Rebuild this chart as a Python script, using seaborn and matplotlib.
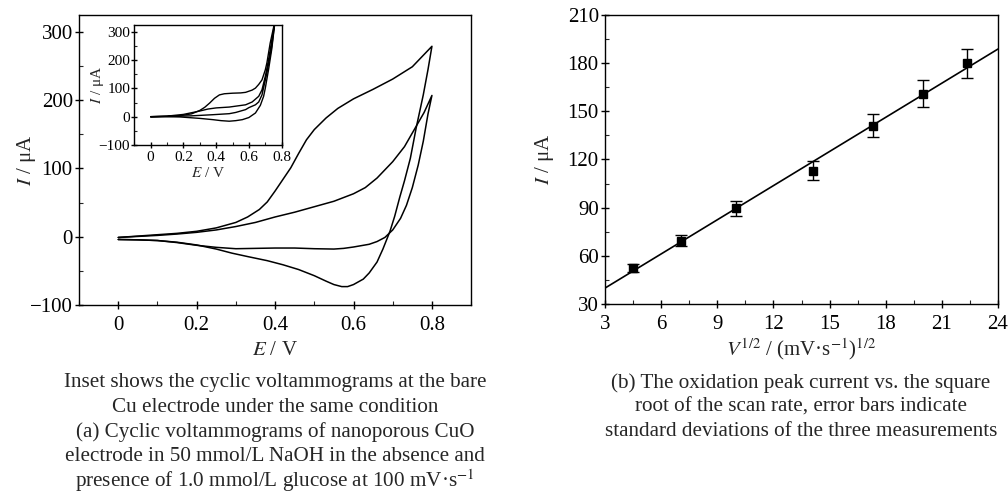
import numpy as np
import pandas as pd
import matplotlib
matplotlib.use("Agg")
import matplotlib.pyplot as plt
from matplotlib.ticker import MultipleLocator
import seaborn as sns

# CV en CuO nanoporoso (panel a): con glucosa (lazo grande) y sin glucosa
big_fwd_E = [0, 0.05, 0.1, 0.15, 0.2, 0.25, 0.3, 0.33, 0.36, 0.38, 0.4, 0.42, 0.44, 0.46, 0.48, 0.5, 0.53, 0.56, 0.6, 0.65, 0.7, 0.75, 0.8]
big_fwd_I = [-1, 1, 3, 5, 8, 13, 21, 29, 40, 51, 67, 84, 101, 122, 142, 157, 174, 188, 202, 216, 231, 249, 279]
big_rev_E = [0.8, 0.79, 0.778, 0.76, 0.745, 0.73, 0.718, 0.705, 0.693, 0.675, 0.66, 0.64, 0.625, 0.6, 0.585, 0.57, 0.55, 0.53, 0.5, 0.46, 0.42, 0.38, 0.33, 0.29, 0.25, 0.2, 0.15, 0.1, 0.05, 0]
big_rev_I = [279, 245, 208, 160, 115, 82, 58, 30, 8, -18, -37, -53, -62, -70, -73, -73, -70, -65, -57, -48, -41, -35, -29, -24, -18, -12, -8, -5.5, -4.5, -4]

small_fwd_E = [0, 0.05, 0.1, 0.15, 0.2, 0.25, 0.3, 0.35, 0.4, 0.45, 0.5, 0.55, 0.6, 0.63, 0.66, 0.7, 0.73, 0.76, 0.78, 0.8]
small_fwd_I = [-1, 0.5, 2, 4, 6.5, 10, 15, 21, 29, 36, 44, 52, 63, 72, 86, 110, 132, 162, 182, 207]
small_rev_E = [0.8, 0.79, 0.778, 0.765, 0.75, 0.735, 0.72, 0.7, 0.68, 0.66, 0.64, 0.62, 0.6, 0.575, 0.55, 0.5, 0.45, 0.4, 0.35, 0.3, 0.25, 0.2, 0.15, 0.1, 0.05, 0]
small_rev_I = [207, 180, 140, 105, 72, 46, 27, 10, -1, -7, -11, -13, -15, -17, -18, -17.5, -16.5, -16.5, -17, -17.5, -15.5, -12.5, -8.5, -5.5, -4.5, -4]

# inserto: electrodo de Cu
cu1_fwd_E = [0, 0.1, 0.18, 0.25, 0.3, 0.33, 0.36, 0.39, 0.42, 0.45, 0.5, 0.55, 0.58, 0.62, 0.64, 0.66, 0.68, 0.7, 0.71, 0.73, 0.76]
cu1_fwd_I = [0, 1.5, 3.5, 10, 22, 33, 48, 65, 77, 81, 83, 84, 86, 94, 101, 114, 130, 165, 190, 260, 340]
cu1_rev_E = [0.76, 0.74, 0.72, 0.7, 0.69, 0.67, 0.64, 0.6, 0.56, 0.52, 0.48, 0.43, 0.38, 0.3, 0.18, 0.1, 0]
cu1_rev_I = [340, 240, 166, 100, 72, 40, 13, -3, -10.5, -14, -16, -14, -10.5, -6, -1, 0, 0]
cu2_fwd_E = [0, 0.1, 0.2, 0.3, 0.35, 0.4, 0.48, 0.58, 0.62, 0.66, 0.68, 0.7, 0.72, 0.74, 0.76]
cu2_fwd_I = [0, 2, 8, 20, 27, 31, 34, 42, 52, 72, 95, 142, 200, 270, 340]
cu2_rev_E = [0.76, 0.74, 0.71, 0.68, 0.66, 0.64, 0.6, 0.58, 0.52, 0.48, 0.38, 0.25, 0.1, 0]
cu2_rev_I = [340, 250, 154, 77, 52, 42, 32, 25, 15, 10.6, 7, 3, 0.5, 0]

# panel b: corriente de pico vs raiz de la velocidad de barrido
v_sqrt = [4.47, 7.07, 10.0, 14.14, 17.32, 20.0, 22.36]
I_peak = [52.5, 69.5, 89.5, 113, 141, 161, 180]
I_sd = [2.5, 3.5, 4.5, 6, 7.3, 8.2, 9]

sns.set_style("ticks")
plt.rcParams['font.family'] = ['Liberation Serif', 'DejaVu Serif']
plt.rcParams['mathtext.fontset'] = 'stix'
plt.rcParams['axes.linewidth'] = 1.0

fig = plt.figure(figsize=(10.08, 4.96), dpi=100)
ax1 = fig.add_axes([0.0784, 0.385, 0.389, 0.585])
axin = fig.add_axes([0.1332, 0.7077, 0.1462, 0.2419])
ax2 = fig.add_axes([0.6002, 0.387, 0.3899, 0.583])


def cv(ax, E1, I1, E2, I2, lw):
    d = pd.DataFrame({'E': list(E1) + list(E2), 'I': list(I1) + list(I2)})
    sns.lineplot(data=d, x='E', y='I', sort=False, estimator=None, color='black', lw=lw, ax=ax)


def style(ax, fs, maj, mn, xpad, ypad):
    ax.tick_params(which='major', direction='inout', length=maj, width=1.0, labelsize=fs,
                   top=False, right=False, colors='black')
    ax.tick_params(which='minor', direction='in', length=mn, width=0.8, top=False, right=False)
    ax.tick_params(axis='x', which='major', pad=xpad)
    ax.tick_params(axis='y', which='major', pad=ypad)
    for s in ax.spines.values():
        s.set_visible(True)
        s.set_color('black')
        s.set_linewidth(1.0)


def labels(ax, xl, yl, fs, xy, yx):
    ax.set_xlabel(xl, fontsize=fs)
    ax.set_ylabel(yl, fontsize=fs)
    ax.xaxis.label.set_va('center')
    ax.yaxis.label.set_va('center')
    ax.xaxis.set_label_coords(0.5, xy)
    ax.yaxis.set_label_coords(yx, 0.5)


# (a)
cv(ax1, big_fwd_E, big_fwd_I, big_rev_E, big_rev_I, 1.1)
cv(ax1, small_fwd_E, small_fwd_I, small_rev_E, small_rev_I, 1.1)
ax1.set_xlim(-0.1, 0.9)
ax1.set_ylim(-100, 325)
ax1.set_xticks([0, 0.2, 0.4, 0.6, 0.8], ['0', '0.2', '0.4', '0.6', '0.8'])
ax1.set_yticks([-100, 0, 100, 200, 300])
ax1.xaxis.set_minor_locator(MultipleLocator(0.1))
ax1.yaxis.set_minor_locator(MultipleLocator(50))
style(ax1, 15, 6, 3, 5, 1.5)
labels(ax1, '$E$ / V', '$I$ / μA', 15, -0.155, -0.135)

cv(axin, cu1_fwd_E, cu1_fwd_I, cu1_rev_E, cu1_rev_I, 1.0)
cv(axin, cu2_fwd_E, cu2_fwd_I, cu2_rev_E, cu2_rev_I, 1.0)
axin.set_xlim(-0.1, 0.8)
axin.set_ylim(-100, 324)
axin.set_xticks([0, 0.2, 0.4, 0.6, 0.8], ['0', '0.2', '0.4', '0.6', '0.8'])
axin.set_yticks([-100, 0, 100, 200, 300])
axin.xaxis.set_minor_locator(MultipleLocator(0.1))
axin.yaxis.set_minor_locator(MultipleLocator(50))
style(axin, 11, 4, 2, 2.5, 1)
labels(axin, '$E$ / V', '$I$ / μA', 11, -0.235, -0.25)

# (b)
ax2.set_xlim(3, 24)
ax2.set_ylim(30, 210)
sns.regplot(x=v_sqrt, y=I_peak, ax=ax2, scatter=False, ci=None, truncate=False,
            color='black', line_kws=dict(lw=1.2))
ax2.errorbar(v_sqrt, I_peak, yerr=I_sd, fmt='s', color='black', ms=6,
             capsize=4, elinewidth=1.0, capthick=1.0)
ax2.set_xlim(3, 24)
ax2.set_ylim(30, 210)
ax2.set_xticks(range(3, 25, 3))
ax2.set_yticks(range(30, 211, 30))
ax2.xaxis.set_minor_locator(MultipleLocator(1.5))
ax2.yaxis.set_minor_locator(MultipleLocator(15))
style(ax2, 15, 6, 3, 5, 1.5)
labels(ax2, '$V^{1/2}$ / (mV·s$^{-1}$)$^{1/2}$', '$I$ / μA', 15, -0.155, -0.153)

cap_a = ["Inset shows the cyclic voltammograms at the bare",
         "Cu electrode under the same condition",
         "(a) Cyclic voltammograms of nanoporous CuO",
         "electrode in 50 mmol/L NaOH in the absence and",
         "presence of 1.0 mmol/L glucose at 100 mV·s$^{-1}$"]
cap_b = ["(b) The oxidation peak current vs. the square",
         "root of the scan rate, error bars indicate",
         "standard deviations of the three measurements"]
for i, t in enumerate(cap_a):
    fig.text(0.2728, 1 - (383 + 24.5 * i) / 496, t, ha='center', va='center', fontsize=15.2)
for i, t in enumerate(cap_b):
    fig.text(0.7946, 1 - (383 + 24.5 * i) / 496, t, ha='center', va='center', fontsize=15.2)

fig.savefig('out.png', dpi=100)
